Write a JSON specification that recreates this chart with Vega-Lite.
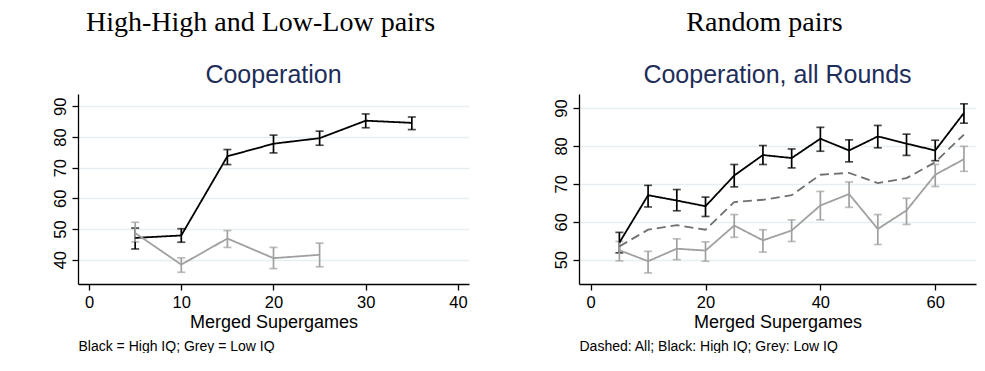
{
  "$schema": "https://vega.github.io/schema/vega-lite/v6.json",
  "background": "#ffffff",
  "padding": {"left": 52, "top": 9, "right": 8, "bottom": 0},
  "autosize": {"type": "pad"},
  "spacing": 83,
  "config": {
    "font": "Liberation Sans",
    "view": {"stroke": null},
    "axis": {
      "domainColor": "#000000", "tickColor": "#000000", "labelColor": "#000000", "titleColor": "#000000",
      "domainWidth": 1.3, "tickWidth": 1.3, "tickSize": 6,
      "labelFontSize": 16.5, "titleFontSize": 18, "titleFontWeight": "normal",
      "gridColor": "#e6eef1", "gridWidth": 1.5
    },
    "title": {"fontWeight": "normal"}
  },
  "hconcat": [
    {
      "title": {"text": "High-High and Low-Low pairs", "font": "Liberation Serif", "fontSize": 28, "color": "#000000", "anchor": "middle", "frame": "bounds", "offset": 26},
      "vconcat": [
        {
          "width": 391, "height": 190,
          "title": {"text": "Cooperation", "fontSize": 25, "color": "#1e2d5a", "anchor": "middle", "frame": "group", "offset": 6},
          "data": {"values": [
            {"x": 5, "group": "High IQ", "mean": 47.1, "lo": 43.5, "hi": 50.3},
            {"x": 10, "group": "High IQ", "mean": 47.9, "lo": 45.7, "hi": 50.1},
            {"x": 15, "group": "High IQ", "mean": 73.7, "lo": 71.0, "hi": 75.9},
            {"x": 20, "group": "High IQ", "mean": 77.8, "lo": 74.8, "hi": 80.6},
            {"x": 25, "group": "High IQ", "mean": 79.6, "lo": 77.3, "hi": 81.9},
            {"x": 30, "group": "High IQ", "mean": 85.3, "lo": 83.0, "hi": 87.5},
            {"x": 35, "group": "High IQ", "mean": 84.6, "lo": 82.4, "hi": 86.5},
            {"x": 5, "group": "Low IQ", "mean": 48.7, "lo": 45.8, "hi": 52.2},
            {"x": 10, "group": "Low IQ", "mean": 38.4, "lo": 35.9, "hi": 40.6},
            {"x": 15, "group": "Low IQ", "mean": 46.9, "lo": 44.0, "hi": 49.5},
            {"x": 20, "group": "Low IQ", "mean": 40.5, "lo": 37.1, "hi": 44.0},
            {"x": 25, "group": "Low IQ", "mean": 41.6, "lo": 37.7, "hi": 45.4}
          ]},
          "layer": [
            {
              "mark": {"type": "errorbar", "thickness": 1.7, "ticks": {"size": 8, "thickness": 1.7}},
              "encoding": {
                "x": {"field": "x", "type": "quantitative", "scale": {"domain": [-1.2, 41.2], "nice": false, "zero": false},
                      "axis": {"orient": "bottom", "values": [0, 10, 20, 30, 40], "title": "Merged Supergames", "grid": false, "labelPadding": 4, "titlePadding": 3}},
                "y": {"field": "lo", "type": "quantitative", "scale": {"domain": [32.08, 94], "nice": false, "zero": false},
                      "axis": {"values": [40, 50, 60, 70, 80, 90], "title": null, "grid": true, "labelAngle": -90, "labelPadding": 4}},
                "y2": {"field": "hi"},
                "color": {"field": "group", "type": "nominal", "scale": {"domain": ["High IQ", "Low IQ", "All"], "range": ["#000000", "#a0a0a0", "#707070"]}, "legend": null}
              }
            },
            {
              "mark": {"type": "line", "strokeWidth": 1.8},
              "encoding": {
                "x": {"field": "x", "type": "quantitative", "scale": {"domain": [-1.2, 41.2], "nice": false, "zero": false},
                      "axis": {"orient": "bottom", "title": "Black = High IQ; Grey = Low IQ", "domain": false, "ticks": false, "labels": false, "grid": false,
                               "titleFontSize": 14, "titleAnchor": "start", "titleAlign": "left", "titleBaseline": "top", "titleY": 55}},
                "y": {"field": "mean", "type": "quantitative",
                      "axis": {"values": [40, 50, 60, 70, 80, 90], "title": null, "grid": true, "labelAngle": -90, "labelPadding": 4}},
                "color": {"field": "group", "type": "nominal", "scale": {"domain": ["High IQ", "Low IQ", "All"], "range": ["#000000", "#a0a0a0", "#707070"]}, "legend": null},
                "strokeDash": {"field": "group", "type": "nominal", "scale": {"domain": ["High IQ", "Low IQ", "All"], "range": [[1, 0], [1, 0], [9, 5]]}, "legend": null}
              }
            }
          ],
          "resolve": {"axis": {"x": "independent"}}
        }
      ]
    },
    {
      "title": {"text": "Random pairs", "font": "Liberation Serif", "fontSize": 28, "color": "#000000", "anchor": "middle", "frame": "bounds", "offset": 26},
      "vconcat": [
        {
          "width": 397, "height": 190,
          "title": {"text": "Cooperation, all Rounds", "fontSize": 25, "color": "#1e2d5a", "anchor": "middle", "frame": "group", "offset": 6},
          "data": {"values": [
            {"x": 5, "group": "High IQ", "mean": 54.5, "lo": 51.8, "hi": 57.2},
            {"x": 10, "group": "High IQ", "mean": 67.0, "lo": 63.9, "hi": 69.6},
            {"x": 15, "group": "High IQ", "mean": 65.6, "lo": 62.9, "hi": 68.5},
            {"x": 20, "group": "High IQ", "mean": 64.1, "lo": 61.4, "hi": 66.5},
            {"x": 25, "group": "High IQ", "mean": 72.2, "lo": 69.2, "hi": 75.1},
            {"x": 30, "group": "High IQ", "mean": 77.6, "lo": 75.1, "hi": 80.1},
            {"x": 35, "group": "High IQ", "mean": 76.8, "lo": 74.2, "hi": 79.2},
            {"x": 40, "group": "High IQ", "mean": 81.9, "lo": 78.6, "hi": 84.9},
            {"x": 45, "group": "High IQ", "mean": 78.8, "lo": 75.8, "hi": 81.6},
            {"x": 50, "group": "High IQ", "mean": 82.5, "lo": 79.5, "hi": 85.4},
            {"x": 55, "group": "High IQ", "mean": 80.6, "lo": 77.5, "hi": 83.1},
            {"x": 60, "group": "High IQ", "mean": 78.8, "lo": 76.1, "hi": 81.5},
            {"x": 65, "group": "High IQ", "mean": 88.7, "lo": 86.0, "hi": 91.1},
            {"x": 5, "group": "Low IQ", "mean": 52.5, "lo": 49.7, "hi": 54.8},
            {"x": 10, "group": "Low IQ", "mean": 49.6, "lo": 46.5, "hi": 52.2},
            {"x": 15, "group": "Low IQ", "mean": 52.9, "lo": 50.0, "hi": 55.5},
            {"x": 20, "group": "Low IQ", "mean": 52.4, "lo": 49.6, "hi": 54.7},
            {"x": 25, "group": "Low IQ", "mean": 59.0, "lo": 55.9, "hi": 61.9},
            {"x": 30, "group": "Low IQ", "mean": 55.1, "lo": 52.0, "hi": 57.9},
            {"x": 35, "group": "Low IQ", "mean": 57.7, "lo": 54.8, "hi": 60.5},
            {"x": 40, "group": "Low IQ", "mean": 64.3, "lo": 60.5, "hi": 68.0},
            {"x": 45, "group": "Low IQ", "mean": 67.3, "lo": 63.8, "hi": 70.5},
            {"x": 50, "group": "Low IQ", "mean": 58.1, "lo": 54.0, "hi": 61.9},
            {"x": 55, "group": "Low IQ", "mean": 63.0, "lo": 59.3, "hi": 66.2},
            {"x": 60, "group": "Low IQ", "mean": 72.4, "lo": 69.3, "hi": 75.1},
            {"x": 65, "group": "Low IQ", "mean": 76.5, "lo": 73.3, "hi": 79.9},
            {"x": 5, "group": "All", "mean": 53.5},
            {"x": 10, "group": "All", "mean": 57.9},
            {"x": 15, "group": "All", "mean": 59.1},
            {"x": 20, "group": "All", "mean": 57.9},
            {"x": 25, "group": "All", "mean": 65.2},
            {"x": 30, "group": "All", "mean": 65.8},
            {"x": 35, "group": "All", "mean": 67.0},
            {"x": 40, "group": "All", "mean": 72.4},
            {"x": 45, "group": "All", "mean": 72.9},
            {"x": 50, "group": "All", "mean": 70.2},
            {"x": 55, "group": "All", "mean": 71.5},
            {"x": 60, "group": "All", "mean": 75.7},
            {"x": 65, "group": "All", "mean": 83.0}
          ]},
          "layer": [
            {
              "transform": [{"filter": "datum.group !== 'All'"}],
              "mark": {"type": "errorbar", "thickness": 1.7, "ticks": {"size": 8, "thickness": 1.7}},
              "encoding": {
                "x": {"field": "x", "type": "quantitative", "scale": {"domain": [-2.03, 67.1], "nice": false, "zero": false},
                      "axis": {"orient": "bottom", "values": [0, 20, 40, 60], "title": "Merged Supergames", "grid": false, "labelPadding": 4, "titlePadding": 3}},
                "y": {"field": "lo", "type": "quantitative", "scale": {"domain": [43.59, 93.69], "nice": false, "zero": false},
                      "axis": {"values": [50, 60, 70, 80, 90], "title": null, "grid": true, "labelAngle": -90, "labelPadding": 4}},
                "y2": {"field": "hi"},
                "color": {"field": "group", "type": "nominal", "scale": {"domain": ["High IQ", "Low IQ", "All"], "range": ["#000000", "#a0a0a0", "#707070"]}, "legend": null}
              }
            },
            {
              "mark": {"type": "line", "strokeWidth": 1.8},
              "encoding": {
                "x": {"field": "x", "type": "quantitative", "scale": {"domain": [-2.03, 67.1], "nice": false, "zero": false},
                      "axis": {"orient": "bottom", "title": "Dashed: All; Black: High IQ; Grey: Low IQ", "domain": false, "ticks": false, "labels": false, "grid": false,
                               "titleFontSize": 14, "titleAnchor": "start", "titleAlign": "left", "titleBaseline": "top", "titleY": 55}},
                "y": {"field": "mean", "type": "quantitative",
                      "axis": {"values": [50, 60, 70, 80, 90], "title": null, "grid": true, "labelAngle": -90, "labelPadding": 4}},
                "color": {"field": "group", "type": "nominal", "scale": {"domain": ["High IQ", "Low IQ", "All"], "range": ["#000000", "#a0a0a0", "#707070"]}, "legend": null},
                "strokeDash": {"field": "group", "type": "nominal", "scale": {"domain": ["High IQ", "Low IQ", "All"], "range": [[1, 0], [1, 0], [9, 5]]}, "legend": null}
              }
            }
          ],
          "resolve": {"axis": {"x": "independent"}}
        }
      ]
    }
  ]
}
